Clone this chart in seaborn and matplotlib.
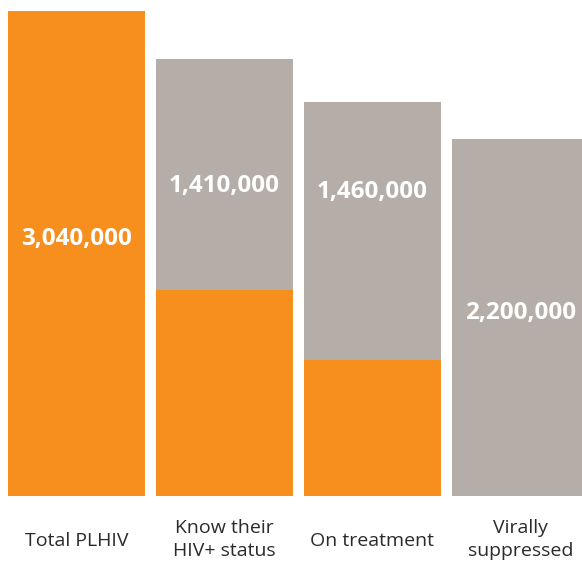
import matplotlib
matplotlib.use("Agg")
import matplotlib.pyplot as plt
import matplotlib.transforms as mtransforms
import seaborn as sns
import pandas as pd

categories = ["Total PLHIV", "Know their\nHIV+ status", "On treatment", "Virally\nsuppressed"]
achieved = [3.04, 1.29, 0.85, 0.0]          # millions (orange)
gap = [0.0, 1.45, 1.62, 2.24]               # millions (gray)
value_labels = ["3,040,000", "1,410,000", "1,460,000", "2,200,000"]
label_y = [1.61, 1.945, 1.905, 1.15]        # millions, where each label sits

ORANGE = "#F78F1E"
GRAY = "#B5ADA7"

sns.set_theme(style="white")
plt.rcParams["font.family"] = ["Open Sans", "DejaVu Sans"]

df = pd.DataFrame({
    "cat": categories,
    "achieved": achieved,
    "total": [a + g for a, g in zip(achieved, gap)],
})

fig = plt.figure(figsize=(5.82, 5.62), dpi=100)
ax = fig.add_axes([0, 66 / 562, 1, 496 / 562])

width = 137 / 148
sns.barplot(data=df, x="cat", y="total", color=GRAY, width=width, ax=ax,
            saturation=1, linewidth=0)
sns.barplot(data=df, x="cat", y="achieved", color=ORANGE, width=width, ax=ax,
            saturation=1, linewidth=0)

ax.set_xlim(-76.5 / 148, (582 - 76.5) / 148)
ax.set_ylim(0, 496 / 159.54)

for i, (lab, y) in enumerate(zip(value_labels, label_y)):
    ax.text(i, y, lab, ha="center", va="center", color="white",
            fontsize=17.5, fontweight="bold")

ax.set_xlabel("")
ax.set_ylabel("")
ax.set_yticks([])
ax.set_xticks([])
trans = mtransforms.blended_transform_factory(ax.transData, fig.transFigure)
for i, cat in enumerate(categories):
    y_px = 539.5 if "\n" in cat else 541
    ax.text(i, (562 - y_px) / 562, cat, transform=trans, ha="center", va="center",
            fontsize=14, fontweight="normal", color="#2b2b2b", linespacing=1.4,
            multialignment="center")
for s in ax.spines.values():
    s.set_visible(False)

fig.savefig("out.png", dpi=100)
